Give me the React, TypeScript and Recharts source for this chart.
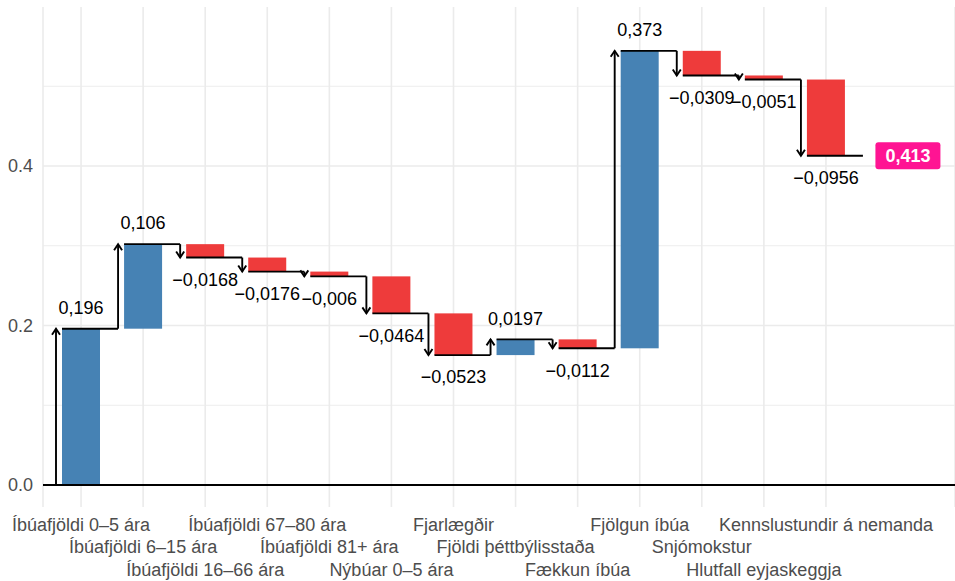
import React from "react";
import {
  ComposedChart,
  Bar,
  XAxis,
  YAxis,
  CartesianGrid,
  ReferenceLine,
} from "recharts";

const categories = [
  "Íbúafjöldi 0–5 ára",
  "Íbúafjöldi 6–15 ára",
  "Íbúafjöldi 16–66 ára",
  "Íbúafjöldi 67–80 ára",
  "Íbúafjöldi 81+ ára",
  "Nýbúar 0–5 ára",
  "Fjarlægðir",
  "Fjöldi þéttbýlisstaða",
  "Fækkun íbúa",
  "Fjölgun íbúa",
  "Snjómokstur",
  "Hlutfall eyjaskeggja",
  "Kennslustundir á nemanda",
];

const changes = [
  0.196, 0.106, -0.0168, -0.0176, -0.006, -0.0464, -0.0523, 0.0197, -0.0112,
  0.373, -0.0309, -0.0051, -0.0956,
];

const majorTicks = [0, 0.2, 0.4];
const minorTicks = [0.1, 0.3, 0.5];

const BLUE = "#4682B4";
const RED = "#EE3B3B";
const PINK = "#FF1493";
const GRID = "#EBEBEB";

let running = 0;
const data = categories.map((name, i) => {
  const start = running;
  running = running + changes[i];
  return {
    name,
    change: changes[i],
    range: [Math.min(start, running), Math.max(start, running)],
  };
});
const total = running;

const fmt = (v: number) =>
  (v < 0 ? "\u2212" : "") + String(Math.abs(v)).replace(".", ",");

const WaterfallBar = (props: any) => {
  const { x, y, width, height, payload, index } = props;
  const up = payload.change >= 0;
  const top = Math.min(y, y + height);
  const bottom = Math.max(y, y + height);
  const endY = up ? top : bottom;
  const startY = up ? bottom : top;
  const ax = x - 6;
  const dir = up ? -1 : 1;
  const cx = x + width / 2;
  const isLast = index === data.length - 1;
  return (
    <g>
      <rect x={x} y={top} width={width} height={bottom - top} fill={up ? BLUE : RED} />
      <line x1={ax} y1={startY} x2={ax} y2={endY} stroke="#000" strokeWidth={1.9} />
      <polyline
        points={`${ax - 4},${endY - dir * 6} ${ax},${endY} ${ax + 4},${endY - dir * 6}`}
        fill="none"
        stroke="#000"
        strokeWidth={1.9}
      />
      <line x1={x} y1={endY} x2={x + width + 18} y2={endY} stroke="#000" strokeWidth={1.9} />
      <text
        x={cx}
        y={up ? endY - 21 : endY + 22}
        dy="0.35em"
        textAnchor="middle"
        fontSize={18}
        fill="#000"
      >
        {fmt(payload.change)}
      </text>
      {isLast && (
        <g>
          <rect x={cx + 82 - 32.5} y={endY - 13.5} width={65} height={27} rx={3} fill={PINK} />
          <text
            x={cx + 82}
            y={endY}
            dy="0.35em"
            textAnchor="middle"
            fontSize={18}
            fontWeight="bold"
            fill="#fff"
          >
            {total.toFixed(3).replace(".", ",")}
          </text>
        </g>
      )}
    </g>
  );
};

const XTick = (props: any) => {
  const { x, y, payload, index } = props;
  const offsets = [24, 46, 69];
  return (
    <text x={x} y={y + offsets[index % 3]} textAnchor="middle" fontSize={18} fill="#4D4D4D">
      {payload.value}
    </text>
  );
};

const App: React.FC = () => {
  return (
    <div
      style={{
        position: "absolute",
        left: 0,
        top: 0,
        width: 955,
        height: 581,
        background: "#fff",
        fontFamily: '"Liberation Sans", Arial, sans-serif',
      }}
    >
      <ComposedChart
        width={955}
        height={581}
        data={data}
        margin={{ top: 7, right: 0, bottom: 0, left: 0 }}
      >
        <CartesianGrid
          horizontal={true}
          vertical={false}
          horizontalValues={minorTicks}
          stroke={GRID}
          strokeWidth={0.9}
        />
        <CartesianGrid
          horizontal={true}
          vertical={true}
          horizontalValues={majorTicks}
          stroke={GRID}
          strokeWidth={1.6}
        />
        <XAxis
          dataKey="name"
          interval={0}
          height={74}
          padding={{ left: 7, right: 98 }}
          axisLine={false}
          tickLine={false}
          tickSize={0}
          tickMargin={0}
          tick={<XTick />}
        />
        <YAxis
          type="number"
          domain={[-0.02759, 0.59937]}
          ticks={majorTicks}
          width={43}
          axisLine={false}
          tickLine={false}
          tickSize={0}
          tickMargin={10}
          tick={{ fontSize: 18, fill: "#4D4D4D" }}
          tickFormatter={(v: number) => v.toFixed(1)}
        />
        <ReferenceLine y={0} stroke="#000" strokeWidth={1.9} />
        <Bar
          dataKey="range"
          barSize={38}
          isAnimationActive={false}
          shape={<WaterfallBar />}
        />
      </ComposedChart>
    </div>
  );
};

export default App;
